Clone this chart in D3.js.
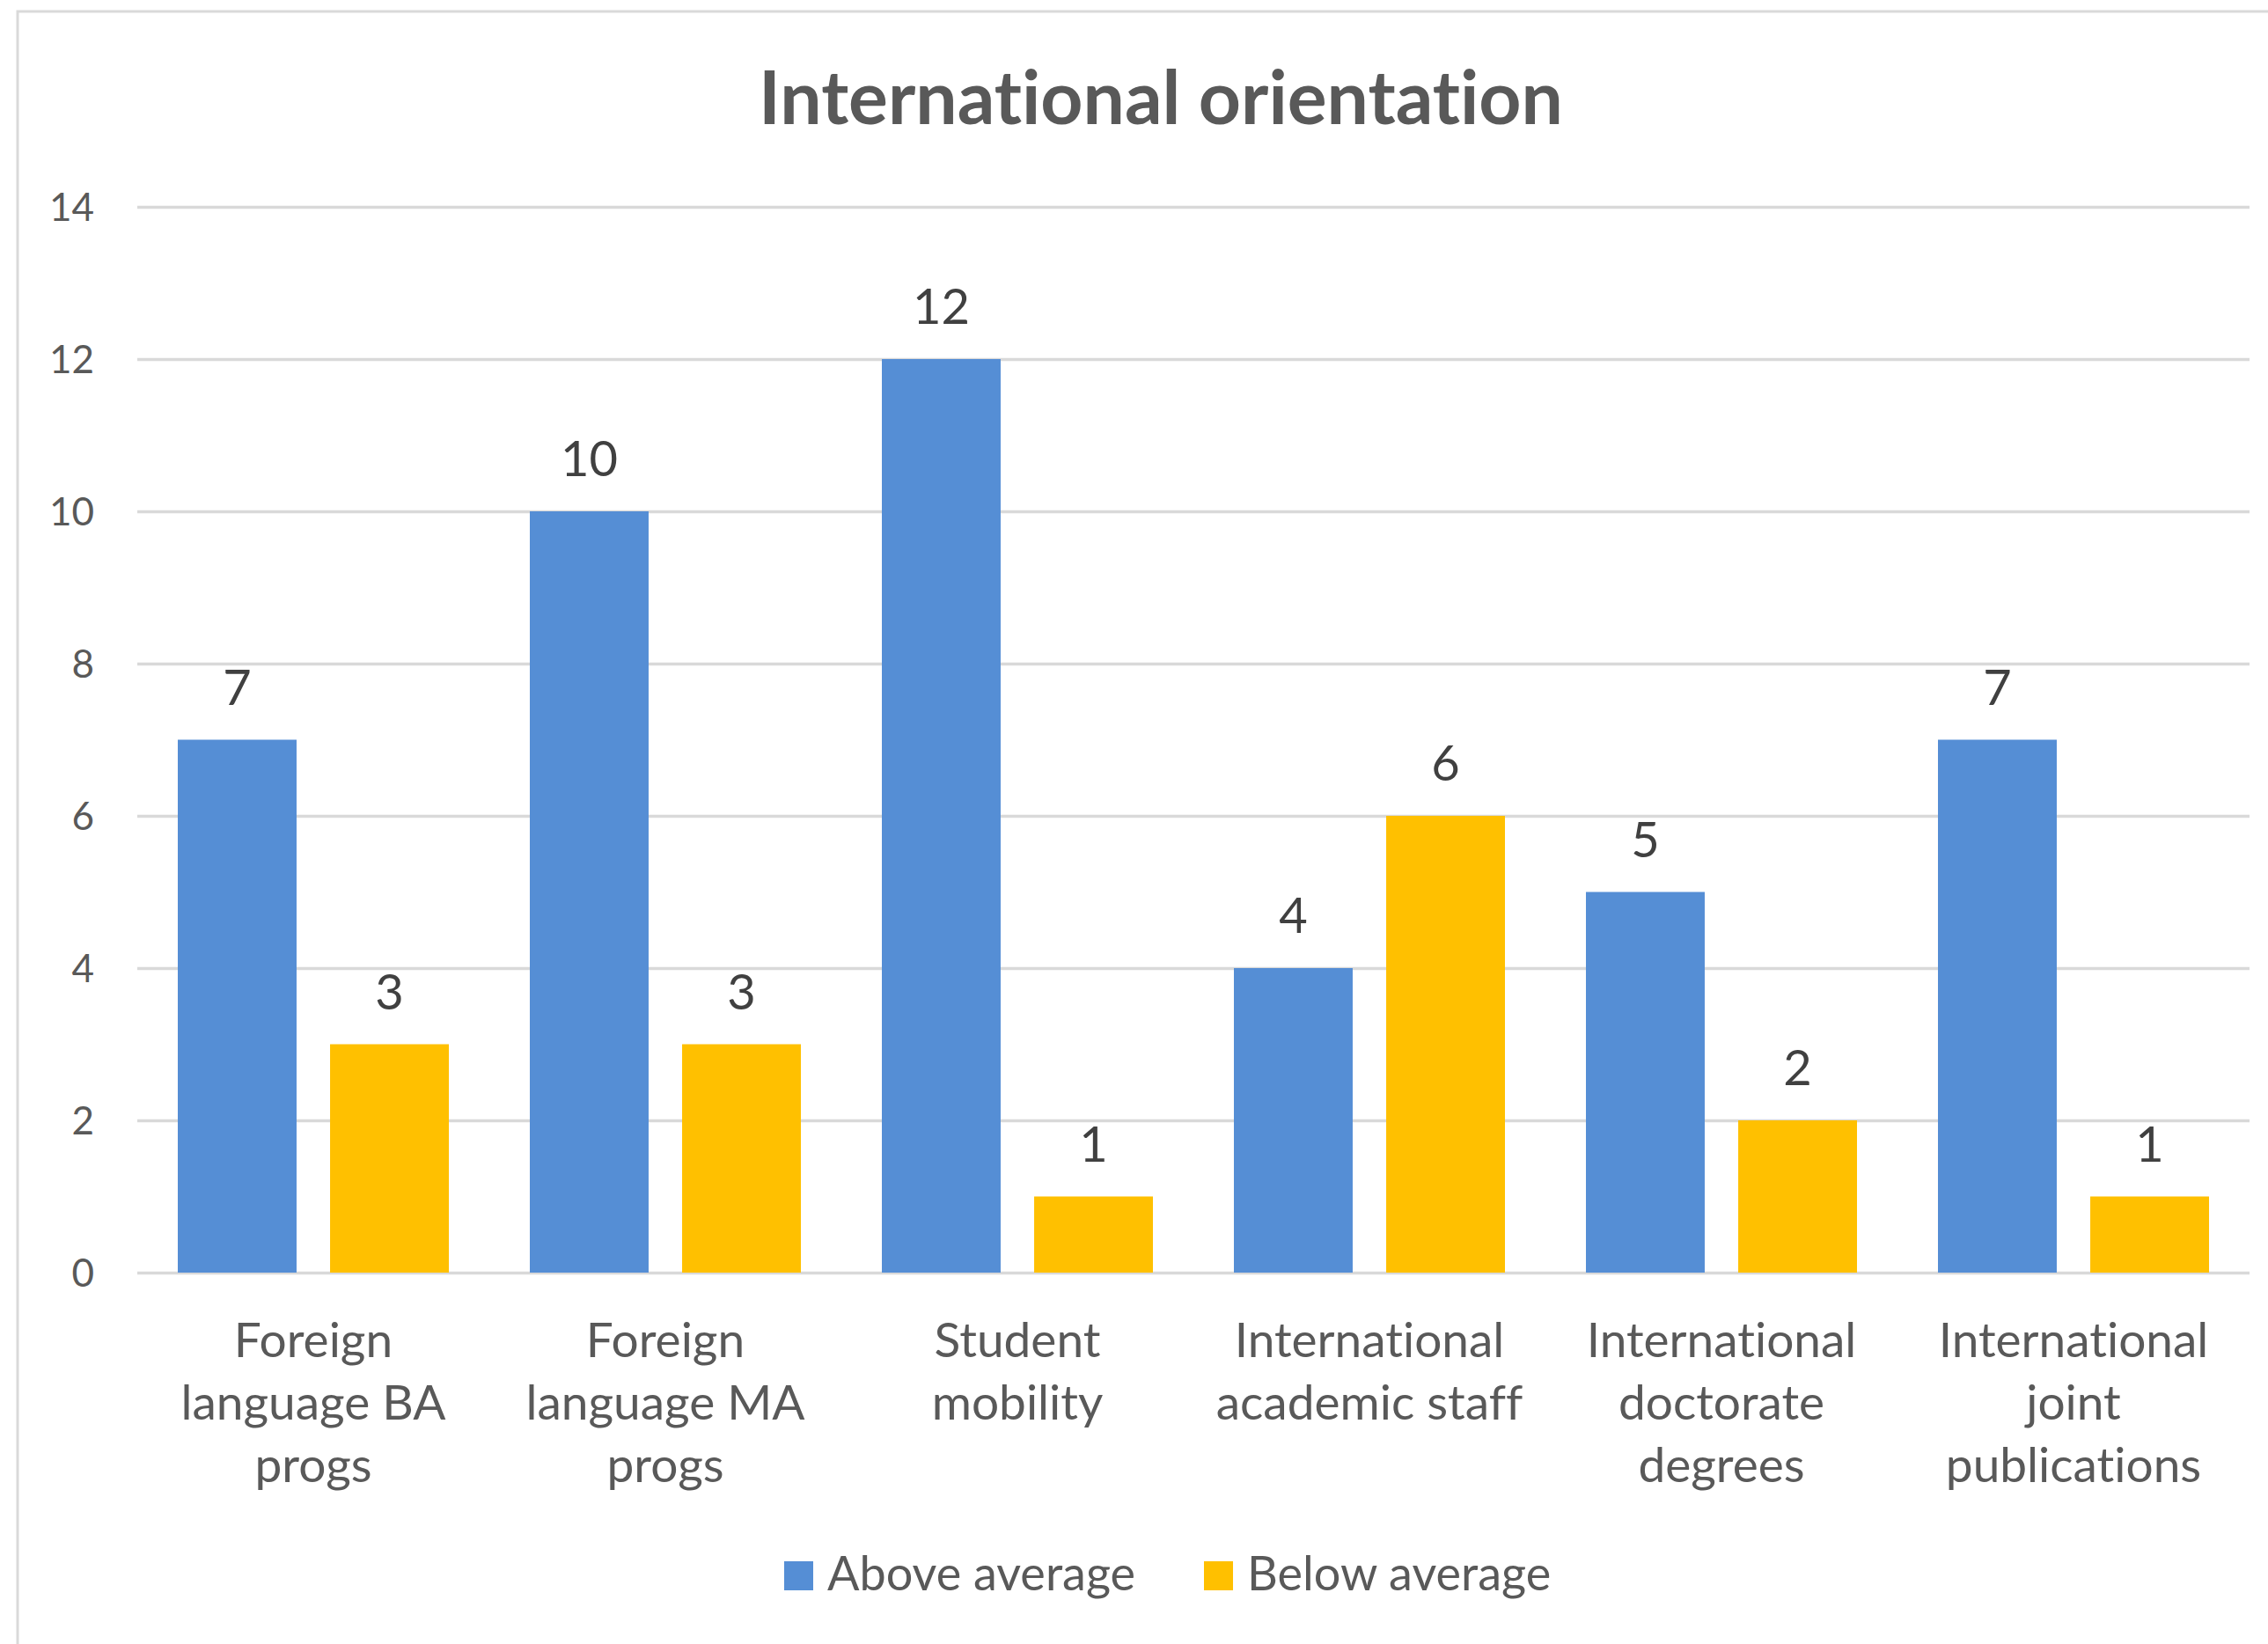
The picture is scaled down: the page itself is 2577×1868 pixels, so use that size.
<!DOCTYPE html>
<html>
<head>
<meta charset="utf-8">
<script src="https://cdn.jsdelivr.net/npm/d3@7"></script>
<style>
  html, body { margin: 0; padding: 0; background: #ffffff; }
  svg { display: block; }
  text { font-family: Lato, "Open Sans", sans-serif; font-variant-ligatures: none; font-feature-settings: "liga" 0, "clig" 0; }
</style>
</head>
<body>
<svg id="chart" width="2577" height="1868"></svg>
<script>
const title = "International orientation";
const categories = [
  ["Foreign", "language BA", "progs"],
  ["Foreign", "language MA", "progs"],
  ["Student", "mobility"],
  ["International", "academic staff"],
  ["International", "doctorate", "degrees"],
  ["International", "joint", "publications"]
];
const seriesNames = ["Above average", "Below average"];
const aboveAverage = [7, 10, 12, 4, 5, 7];
const belowAverage = [3, 3, 1, 6, 2, 1];
const yTicks = [0, 2, 4, 6, 8, 10, 12, 14];
const colors = ["#558ED5", "#FFC000"];

const svg = d3.select("#chart");
const W = 2577, H = 1868;

// chart area border
svg.append("rect")
  .attr("x", 20).attr("y", 13)
  .attr("width", W).attr("height", H)
  .attr("fill", "#ffffff")
  .attr("stroke", "#D9D9D9").attr("stroke-width", 3);

const plot = { left: 156, right: 2556, top: 235, bottom: 1446 };

const y = d3.scaleLinear().domain([0, 14]).range([plot.bottom, plot.top]);
const catIdx = categories.map((d, i) => i);
const x0 = d3.scaleBand().domain(catIdx).range([plot.left, plot.right]).paddingInner(0).paddingOuter(0);
const bw = x0.bandwidth();
const x1 = d3.scaleBand().domain([0, 1]).range([bw * 0.115, bw * 0.885]).paddingInner(0.22).paddingOuter(0);

// gridlines
const yAxis = d3.axisLeft(y).tickValues(yTicks).tickSize(-(plot.right - plot.left)).tickFormat(d3.format("d"));
const gAxis = svg.append("g").attr("transform", `translate(${plot.left},0)`).call(yAxis);
gAxis.select(".domain").remove();
gAxis.selectAll(".tick line").attr("stroke", "#D9D9D9").attr("stroke-width", 3.3);
gAxis.selectAll(".tick text")
  .attr("x", -49)
  .attr("dy", "0.36em")
  .attr("fill", "#595959")
  .attr("font-size", 44);

// bars
const series = [aboveAverage, belowAverage];
const groups = svg.append("g").selectAll("g")
  .data(catIdx).join("g")
  .attr("transform", i => `translate(${x0(i)},0)`);

groups.selectAll("rect")
  .data(i => series.map((s, k) => ({ k, v: s[i] })))
  .join("rect")
  .attr("x", d => x1(d.k))
  .attr("y", d => y(d.v))
  .attr("width", x1.bandwidth())
  .attr("height", d => y(0) - y(d.v))
  .attr("fill", d => colors[d.k]);

groups.selectAll("text.lbl")
  .data(i => series.map((s, k) => ({ k, v: s[i] })))
  .join("text")
  .attr("class", "lbl")
  .attr("x", d => x1(d.k) + x1.bandwidth() / 2)
  .attr("y", d => y(d.v) - 40)
  .attr("text-anchor", "middle")
  .attr("fill", "#404040")
  .attr("font-size", 56)
  .text(d => d.v);

// category labels
const catG = svg.append("g");
catIdx.forEach(i => {
  const t = catG.append("text")
    .attr("x", x0(i) + bw / 2)
    .attr("y", 1542)
    .attr("text-anchor", "middle")
    .attr("fill", "#595959")
    .attr("font-size", 55);
  categories[i].forEach((line, j) => {
    t.append("tspan")
      .attr("x", x0(i) + bw / 2)
      .attr("y", 1542 + j * 71)
      .text(line);
  });
});

// title
svg.append("text")
  .attr("x", 1319).attr("y", 141)
  .attr("text-anchor", "middle")
  .attr("fill", "#595959")
  .attr("font-size", 84)
  .attr("font-weight", "bold")
  .text(title);

// legend
const legendX = [891, 1368];
const leg = svg.append("g");
seriesNames.forEach((name, k) => {
  leg.append("rect")
    .attr("x", legendX[k]).attr("y", 1774)
    .attr("width", 33).attr("height", 33)
    .attr("fill", colors[k]);
  leg.append("text")
    .attr("x", legendX[k] + 49).attr("y", 1807)
    .attr("fill", "#595959")
    .attr("font-size", 54)
    .text(name);
});
</script>
</body>
</html>
